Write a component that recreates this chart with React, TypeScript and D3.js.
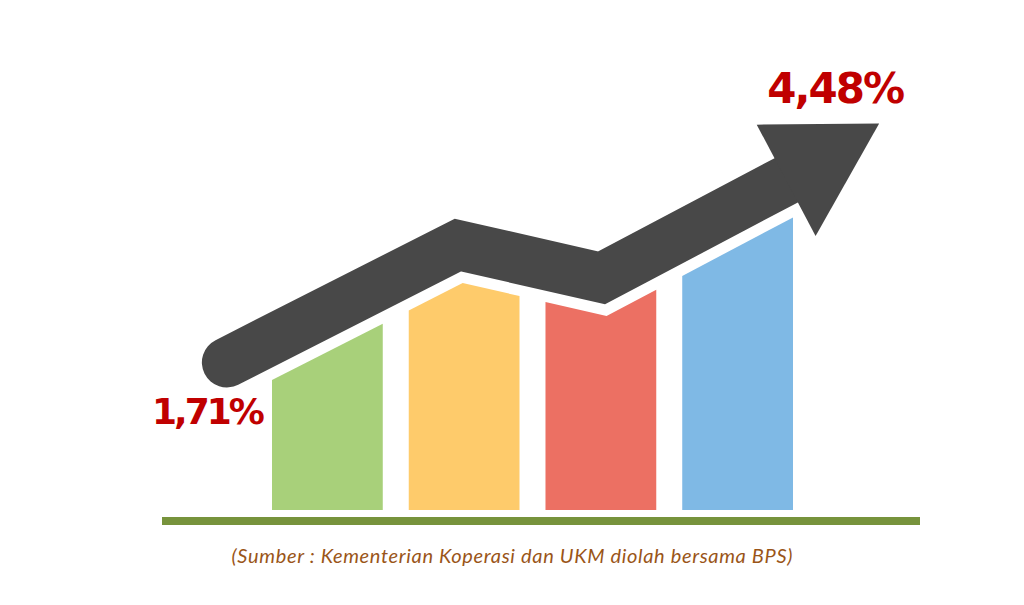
import React from 'react';
import * as d3 from 'd3';

// ---- data ----
const categories = ['I', 'II', 'III', 'IV'];
const barColors = ['#a8d07a', '#fecb6b', '#ec7063', '#7fb9e5'];
// trend arrow centre line: position (in bar-step units) and value (%)
const trendIndex = [-0.33, 1.36, 2.41, 3.76];
const trendValues = [1.71, 3.07, 2.69, 3.82];
const tipIndex = 4.44;
const tipValue = 4.48;
const startLabel = '1,71%';
const endLabel = '4,48%';
const sourceNote = '(Sumber : Kementerian Koperasi dan UKM diolah bersama BPS)';

type P = [number, number];

export default function App() {
  const W = 1024;
  const H = 605;
  const band = d3.scaleBand<string>().domain(categories).range([272, 793]).paddingInner(0.19).paddingOuter(0);
  const bx0 = band(categories[0])!;
  const xi = d3.scaleLinear().domain([0, 1]).range([bx0, bx0 + band.step()]);
  const y = d3.scaleLinear().domain([0, 5]).range([510, 78.5]);

  const pts: P[] = trendIndex.map((t, i) => [xi(t), y(trendValues[i])]);
  const tip: P = [xi(tipIndex), y(tipValue)];
  const shaftW = 50;
  const gap = 36;
  const headHalf = 63;

  const dirs: P[] = pts.slice(1).map((p, i) => {
    const dx = p[0] - pts[i][0];
    const dy = p[1] - pts[i][1];
    const l = Math.hypot(dx, dy);
    return [dx / l, dy / l];
  });
  const norms: P[] = dirs.map((d) => [-d[1], d[0]]);
  const offLines = dirs.map((d, i) => ({ p: [pts[i][0] + gap * norms[i][0], pts[i][1] + gap * norms[i][1]] as P, d }));
  const intersect = (a: { p: P; d: P }, b: { p: P; d: P }): P => {
    const det = -a.d[0] * b.d[1] + a.d[1] * b.d[0];
    const rx = b.p[0] - a.p[0];
    const ry = b.p[1] - a.p[1];
    const t = (-rx * b.d[1] + ry * b.d[0]) / det;
    return [a.p[0] + t * a.d[0], a.p[1] + t * a.d[1]];
  };
  const offPoly: P[] = [
    [offLines[0].p[0] - 300 * dirs[0][0], offLines[0].p[1] - 300 * dirs[0][1]],
  ];
  for (let i = 0; i < offLines.length - 1; i++) offPoly.push(intersect(offLines[i], offLines[i + 1]));
  const lastL = offLines[offLines.length - 1];
  offPoly.push([lastL.p[0] + 600 * lastL.d[0], lastL.p[1] + 600 * lastL.d[1]]);

  const topAt = (x: number) => {
    for (let i = 0; i < offPoly.length - 1; i++) {
      const a = offPoly[i];
      const b = offPoly[i + 1];
      if (x >= a[0] && x <= b[0]) {
        const t = (x - a[0]) / (b[0] - a[0]);
        return a[1] + t * (b[1] - a[1]);
      }
    }
    return offPoly[offPoly.length - 1][1];
  };

  const line = d3.line<P>();
  const bars = categories.map((c, i) => {
    const a = band(c)!;
    const b = a + band.bandwidth();
    const poly: P[] = [
      [a, y(0)],
      [a, topAt(a)],
      ...offPoly.filter((p) => p[0] > a && p[0] < b),
      [b, topAt(b)],
      [b, y(0)],
    ];
    return { c, d: line(poly) + 'Z', color: barColors[i] };
  });

  const back = pts[pts.length - 1];
  const n = norms[norms.length - 1];
  const head: P[] = [
    [back[0] + headHalf * n[0], back[1] + headHalf * n[1]],
    tip,
    [back[0] - headHalf * n[0], back[1] - headHalf * n[1]],
  ];

  return (
    <svg
      width={W}
      height={H}
      viewBox={`0 0 ${W} ${H}`}
      style={{ position: 'absolute', left: 0, top: 0, background: '#ffffff' }}
    >
      <rect x={0} y={0} width={W} height={H} fill="#ffffff" />
      {bars.map((b) => (
        <path key={b.c} d={b.d} fill={b.color} />
      ))}
      <path
        d={line(pts) || ''}
        fill="none"
        stroke="#484848"
        strokeWidth={shaftW}
        strokeLinecap="round"
        strokeLinejoin="miter"
      />
      <path d={line(head) + 'Z'} fill="#484848" />
      <rect x={162} y={517} width={758} height={8} fill="#77933c" />
      <text
        x={pts[0][0] + 35}
        y={pts[0][1] + 62}
        textAnchor="end"
        fontFamily="DejaVu Sans"
        fontWeight="bold"
        fontSize={36}
        letterSpacing={-3}
        fill="#c00000"
      >
        {startLabel}
      </text>
      <text
        x={tip[0] - 44}
        y={tip[1] - 20}
        textAnchor="middle"
        fontFamily="DejaVu Sans"
        fontWeight="bold"
        fontSize={42}
        letterSpacing={-2}
        fill="#c00000"
      >
        {endLabel}
      </text>
      <text
        x={512}
        y={563}
        textAnchor="middle"
        fontFamily="Lato"
        fontStyle="italic"
        fontSize={20}
        textLength={561}
        lengthAdjust="spacing"
        fill="#9a5518"
      >
        {sourceNote}
      </text>
    </svg>
  );
}
